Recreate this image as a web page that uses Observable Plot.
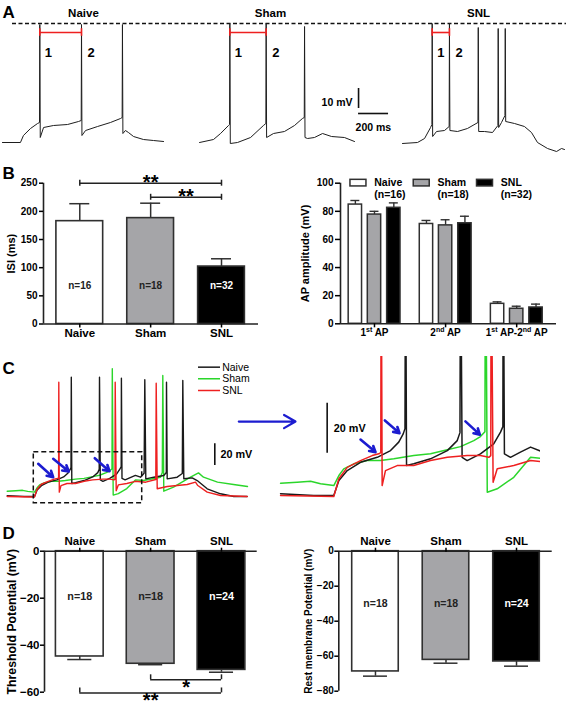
<!DOCTYPE html>
<html><head><meta charset="utf-8">
<script src="https://cdn.jsdelivr.net/npm/d3@7"></script>
<script src="https://cdn.jsdelivr.net/npm/@observablehq/plot@0.6"></script>
<style>
html,body{margin:0;padding:0;background:#fff;}
#fig{position:relative;width:567px;height:705px;overflow:hidden;background:#fff;}
#fig svg{position:absolute;overflow:visible;background:transparent;}
</style></head><body><div id="fig"></div>
<script>
// ---------------- DATA ----------------
const groups = ["Naive", "Sham", "SNL"];
const groupFills = ["#ffffff", "#a5a5a8", "#000000"];
const traceColors = ["#1a1a1a", "#2bd62b", "#ee2020"];

// Panel A: example recordings [time (ms), membrane potential (mV)]
const traceANaive = [[13,-59.5],[133,-59.5],[153,-56],[200,-52.5],[247,-50],[260,-49.5],[262,-0.5],[265,-57],[287,-52],[353,-51],[447,-50.5],[520,-49],[538,-48.5],[540,-0.5],[543,-56],[567,-53.5],[647,-51.5],[733,-49.5],[800,-47.5],[811,-47],[813,-0.5],[816,-55],[833,-53.5],[853,-54.5],[887,-56.5],[953,-58],[1020,-58.5],[1087,-59]];
const traceASham = [[1327,-59.5],[1420,-58],[1467,-55],[1520,-51],[1527,-50.5],[1529,0],[1532,-60],[1580,-59.5],[1667,-57],[1753,-51],[1769,-50],[1771,0],[1774,-57],[1820,-55],[1893,-54],[1960,-51],[2013,-47.5],[2025,-47],[2027,-1.5],[2030,-57],[2047,-57.5],[2093,-57],[2147,-55],[2207,-56.5],[2293,-57],[2360,-59]];
const traceASNL = [[2680,-60],[2780,-59.5],[2827,-57.5],[2867,-52],[2876,-50.5],[2878,0],[2881,-56.5],[2907,-54],[2960,-53.5],[2991,-51.5],[2993,0],[2996,-53.5],[3047,-54],[3113,-52.5],[3183,-49.5],[3185,-2],[3188,-54],[3227,-54],[3280,-54.5],[3316,-51],[3318,-2.5],[3321,-52],[3340,-49.5],[3363,-46],[3365,-2.5],[3368,-49],[3427,-50],[3493,-51.5],[3540,-54.5],[3580,-59.5],[3647,-62.5],[3707,-64],[3740,-62.5],[3760,-63]];
const isiSpike1 = [262, 1529, 2878];
const isiSpike2 = [540, 1771, 2993];
const scaleBarAmV = 10;
const scaleBarAms = 200;

// Panel B
const isiMean = [182.6, 188, 102];
const isiSem = [31, 26.5, 13.8];
const isiN = [16, 18, 32];
const isiTicks = [0, 50, 100, 150, 200, 250];
const isiSigPairs = [[0, 2], [1, 2]];
const isiSigLabels = ["**", "**"];

const ampCategories = ["1st AP", "2nd AP", "1st AP-2nd AP"];
const ampNaive = [84.8, 71, 14.2];
const ampSham = [77.7, 70, 10.7];
const ampSNL = [82.5, 71.5, 11.6];
const ampSemNaive = [2.9, 2.5, 1.4];
const ampSemSham = [2.3, 4, 1.8];
const ampSemSNL = [3.5, 5, 2.4];
const ampN = [16, 18, 32];
const ampTicks = [0, 20, 40, 60, 80, 100];

// Panel C: traces [time (ms), membrane potential (mV)]
const cTraceNaive = [[67,-61.3],[237,-62],[340,-62],[366,-56],[409,-52],[477,-48.7],[563,-46.7],[631,-44],[673,-40.6],[696,-37.3],[705,-35.2],[708,48],[713,-50],[750,-49.3],[836,-47.3],[922,-44],[973,-40],[987,-36.8],[990,48],[998,-46.7],[1024,-48],[1092,-45.3],[1160,-41.3],[1195,-36.6],[1207,-34.4],[1209,47],[1215,-45.3],[1246,-46.7],[1297,-44.6],[1349,-42.6],[1400,-44.2],[1436,-40.5],[1443,45.6],[1453,-45.7],[1533,-44.2],[1633,-42.6],[1658,-39.9],[1660,43.3],[1667,-45.7],[1767,-44.2],[1818,-40.8],[1823,44.9],[1833,-45.7],[1917,-44.8],[1967,-47.3],[2067,-54.9],[2200,-59.5],[2333,-62],[2467,-62]];
const cTraceSham = [[67,-57.1],[152,-56.7],[221,-56.3],[272,-57.3],[340,-58],[366,-54],[391,-51.3],[443,-49.3],[511,-48],[579,-48],[648,-47.3],[750,-46],[836,-45.3],[922,-43.7],[990,-42.4],[1058,-40],[1092,-38.4],[1115,-36.4],[1118,55.7],[1127,-60.7],[1178,-59.3],[1263,-54.7],[1349,-46.7],[1430,-47.3],[1600,-44.2],[1618,-39.9],[1623,49.5],[1633,-57.1],[1730,-53.4],[1900,-44.2],[1980,-40.2],[2030,-44.2],[2170,-48.8],[2330,-50.9],[2470,-52.8]];
const cTraceSNL = [[67,-62],[340,-62.4],[366,-55.3],[409,-50.7],[477,-48],[537,-46],[571,-45.3],[581,-44.8],[583,43.3],[588,-58],[605,-52],[665,-50],[750,-50],[836,-48],[922,-46.7],[1024,-46],[1092,-46],[1135,-46.7],[1145,-46],[1147,43.3],[1157,-56.7],[1178,-51.3],[1263,-50],[1349,-48],[1453,-48.8],[1553,-46.3],[1557,42.4],[1567,-54.9],[1667,-52.8],[1867,-50.9],[1950,-48.8],[1973,-51.9],[2067,-58],[2200,-61.1],[2467,-62]];
const scaleBarCmV = 20;

// Panel D
const thrMean = [-44.8, -47.9, -50.5];
const thrSem = [1.3, 0.4, 1.0];
const thrN = [18, 18, 24];
const thrTicks = [0, -20, -40, -60];
const thrSigPairs = [[1, 2], [0, 2]];
const thrSigLabels = ["*", "**"];
const rmpMean = [-68.7, -62.1, -63];
const rmpSem = [2.7, 1.9, 2.7];
const rmpN = [18, 18, 24];
const rmpTicks = [0, -20, -40, -60, -80];

// ---------------- LAYOUT (positions / styles) ----------------
const FONT = "'Liberation Sans', Arial, sans-serif";
const INK = "#222";
const RED = "#ee2020";
const BLUE = "#1c1cd0";
const fig = document.getElementById("fig");

function place(svg, left, top, fontSize) {
  Object.assign(svg.style, {left: left + "px", top: top + "px", fontFamily: FONT, fontWeight: "bold",
    fontSize: fontSize + "px", overflow: "visible", background: "transparent", maxWidth: "none"});
  fig.appendChild(svg);
  return svg;
}

function supify(svg) {
  const NS = "http://www.w3.org/2000/svg";
  svg.querySelectorAll("text").forEach(t => {
    const s = t.textContent;
    if (!/\d(st|nd) /.test(s)) return;
    const parts = s.split(/(st|nd)(?= )/);
    while (t.firstChild) t.removeChild(t.firstChild);
    let raised = false;
    parts.forEach((p, k) => {
      const sp = document.createElementNS(NS, "tspan");
      sp.textContent = p;
      if (k % 2 === 1) { sp.setAttribute("dy", "-4"); sp.setAttribute("font-size", "7"); raised = true; }
      else if (raised) { sp.setAttribute("dy", "4"); raised = false; }
      t.appendChild(sp);
    });
  });
}

// ---------------- PANEL A ----------------
{
  const isiRows = groups.map((g, i) => ({g, t1: isiSpike1[i], t2: isiSpike2[i]}));
  const titleX = [553, 1800, 3187];
  const sbT = 2387, sbV = -42.5, sbH = -45;
  const svg = Plot.plot({
    width: 567, height: 150, margin: 0,
    x: {domain: [0, 3780], axis: null},
    y: {domain: [-63.5, 11.5], axis: null},
    marks: [
      Plot.ruleY([0], {x1: 80, x2: 3773, stroke: "#111", strokeWidth: 1.5, strokeDasharray: "4,2.5"}),
      ...[traceANaive, traceASham, traceASNL].map(tr =>
        Plot.line(tr, {x: d => d[0], y: d => d[1], stroke: "#1e1e1e", strokeWidth: 1})),
      Plot.ruleY(isiRows, {x1: "t1", x2: "t2", y: -4.5, stroke: RED, strokeWidth: 1.6}),
      Plot.ruleX(isiRows, {x: "t1", y1: -2.6, y2: -6.4, stroke: RED, strokeWidth: 1.6}),
      Plot.ruleX(isiRows, {x: "t2", y1: -2.6, y2: -6.4, stroke: RED, strokeWidth: 1.6}),
      Plot.text(isiRows, {x: "t1", y: -16.5, text: () => "1", dx: 5, textAnchor: "start", lineAnchor: "bottom", fontSize: 13, fontWeight: "bold"}),
      Plot.text(isiRows, {x: "t2", y: -16.5, text: () => "2", dx: 6, textAnchor: "start", lineAnchor: "bottom", fontSize: 13, fontWeight: "bold"}),
      Plot.text(groups, {x: (d, i) => titleX[i], y: 3.5, text: d => d, lineAnchor: "bottom", fontSize: 11.5, fontWeight: "bold"}),
      Plot.ruleX([sbT], {y1: sbV, y2: sbV + scaleBarAmV, stroke: "#111", strokeWidth: 1.6}),
      Plot.ruleY([sbH], {x1: sbT, x2: sbT + scaleBarAms, stroke: "#111", strokeWidth: 1.6}),
      Plot.text([`${scaleBarAmV} mV`], {x: sbT - 40, y: -41, text: d => d, textAnchor: "end", lineAnchor: "bottom", fontSize: 10.5, fontWeight: "bold"}),
      Plot.text([`${scaleBarAms} ms`], {x: sbT - 20, y: -53.5, text: d => d, textAnchor: "start", lineAnchor: "bottom", fontSize: 10.5, fontWeight: "bold"}),
      Plot.text(["A"], {frameAnchor: "top-left", text: d => d, dx: 2, dy: 17, textAnchor: "start", lineAnchor: "bottom", fontSize: 17, fontWeight: "bold"})
    ]
  });
  place(svg, 0, 0, 10);
}

// ---------------- generic bar panel ----------------
function barPanel(o) {
  const rows = groups.map((g, i) => ({g, i, v: o.means[i], e: o.sems[i], n: o.ns[i]}));
  const yMid = (o.yDom[0] + o.yDom[1]) / 2;
  const marks = [
    Plot.ruleX(rows, {x: "i", y1: "v", y2: d => d.v + o.errDir * d.e, stroke: "#303030", strokeWidth: 1.5}),
    Plot.ruleY(rows, {y: d => d.v + o.errDir * d.e, x1: d => d.i - o.capHalf, x2: d => d.i + o.capHalf, stroke: "#303030", strokeWidth: 1.5}),
    Plot.rect(rows, {x1: d => d.i - o.halfW, x2: d => d.i + o.halfW, y1: 0, y2: "v", fill: d => groupFills[d.i], stroke: "#303030", strokeWidth: 1.6}),
    Plot.ruleX([o.xDom[0]], {stroke: INK, strokeWidth: 1.6}),
    Plot.ruleY([0], {stroke: INK, strokeWidth: 1.6}),
    Plot.axisY(o.ticks, {tickSize: 4, tickPadding: o.tickPadding, fontSize: o.tickFont, strokeWidth: 1.5, label: null}),
    Plot.axisX([0, 1, 2], {anchor: o.catAnchor, tickFormat: i => groups[i], tickSize: 4, tickPadding: o.catPadding, fontSize: o.catFont, strokeWidth: 1.5, label: null}),
    Plot.text(rows, {x: "i", y: o.nY, text: d => "n=" + d.n, fill: d => d.i === 2 ? "#ffffff" : INK, fontSize: o.nFont, fontWeight: "bold"}),
    Plot.text([o.title], {x: o.xDom[0], y: yMid, text: d => d, rotate: -90, textAnchor: "middle", dx: o.titleDx, fontSize: o.titleFont, fontWeight: "bold"})
  ];
  if (o.sigPairs) {
    const sig = o.sigPairs.map((p, k) => ({a: p[0], b: p[1], lab: o.sigLabels[k], lev: o.sigLevels[k]}));
    marks.push(
      Plot.ruleY(sig, {y: "lev", x1: "a", x2: "b", stroke: INK, strokeWidth: 1.5}),
      Plot.ruleX(sig, {x: "a", y1: d => d.lev + o.sigTick[0], y2: d => d.lev + o.sigTick[1], stroke: INK, strokeWidth: 1.5}),
      Plot.ruleX(sig, {x: "b", y1: d => d.lev + o.sigTick[0], y2: d => d.lev + o.sigTick[1], stroke: INK, strokeWidth: 1.5}),
      Plot.text(sig, {x: d => (d.a + d.b) / 2, y: "lev", text: "lab", dy: o.sigDy, lineAnchor: "bottom", fontSize: 20, fontWeight: "bold"})
    );
  }
  if (o.letter) {
    marks.push(Plot.text([o.letter], {frameAnchor: "top-left", text: d => d, dx: o.letterDx, dy: o.letterDy, textAnchor: "start", lineAnchor: "bottom", fontSize: 17, fontWeight: "bold"}));
  }
  const svg = Plot.plot({
    width: o.width, height: o.height,
    marginLeft: o.mL, marginRight: o.mR, marginTop: o.mT, marginBottom: o.mB,
    x: {domain: o.xDom}, y: {domain: o.yDom}, color: {type: "identity"},
    marks
  });
  return place(svg, o.left, o.top, o.tickFont);
}

// ---------------- PANEL B (left) ----------------
barPanel({left: 0, top: 160, width: 262, height: 190, mL: 43, mR: 4, mT: 22.7, mB: 26.5,
  xDom: [-0.512, 2.522], yDom: [0, 250], means: isiMean, sems: isiSem, ns: isiN, ticks: isiTicks,
  tickFont: 10, tickPadding: 2, catFont: 11.5, catAnchor: "bottom", catPadding: 1,
  title: "ISI (ms)", titleFont: 11, titleDx: -32, nY: 67, nFont: 10, halfW: 0.33, capHalf: 0.141, errDir: 1,
  sigPairs: isiSigPairs, sigLabels: isiSigLabels, sigLevels: [250, 225], sigTick: [-5.3, 5.3], sigDy: 6,
  letter: "B", letterDx: -41, letterDy: -4.4});

// ---------------- PANEL B (right) ----------------
{
  const series = [ampNaive, ampSham, ampSNL];
  const sems = [ampSemNaive, ampSemSham, ampSemSNL];
  const offs = [-0.269, 0, 0.272];
  const rows = [];
  series.forEach((s, g) => s.forEach((v, c) => rows.push({g, c, x: c + offs[g], v, e: sems[g][c]})));
  const leg = groups.map((name, g) => {
    const x1 = -0.338 + 0.89 * g;
    return {name, g, x1, x2: x1 + 0.225, tx: x1 + 0.335, n: ampN[g]};
  });
  const svg = Plot.plot({
    width: 287, height: 190, marginLeft: 60, marginRight: 11, marginTop: 22.7, marginBottom: 26.7,
    x: {domain: [-0.478, 2.56]}, y: {domain: [0, 100]}, color: {type: "identity"},
    marks: [
      Plot.ruleX(rows, {x: "x", y1: "v", y2: d => d.v + d.e, stroke: "#303030", strokeWidth: 1.4}),
      Plot.ruleY(rows, {y: d => d.v + d.e, x1: d => d.x - 0.063, x2: d => d.x + 0.063, stroke: "#303030", strokeWidth: 1.4}),
      Plot.rect(rows, {x1: d => d.x - 0.094, x2: d => d.x + 0.094, y1: 0, y2: "v", fill: d => groupFills[d.g], stroke: "#303030", strokeWidth: 1.5}),
      Plot.ruleX([-0.478], {stroke: INK, strokeWidth: 1.6}),
      Plot.ruleY([0], {stroke: INK, strokeWidth: 1.6}),
      Plot.axisY(ampTicks, {tickSize: 5, tickPadding: 2, fontSize: 10, strokeWidth: 1.5, label: null}),
      Plot.axisX([0, 1, 2], {tickFormat: i => ampCategories[i], tickSize: 4, tickPadding: 1, fontSize: 10, strokeWidth: 1.5, label: null}),
      Plot.rect(leg, {x1: "x1", x2: "x2", y1: 97.7, y2: 102.4, fill: d => groupFills[d.g], stroke: "#303030", strokeWidth: 1.5}),
      Plot.text(leg, {x: "tx", y: 97.7, text: "name", textAnchor: "start", lineAnchor: "bottom", fontSize: 10.5, fontWeight: "bold"}),
      Plot.text(leg, {x: "tx", y: 89.8, text: d => `(n=${d.n})`, textAnchor: "start", lineAnchor: "bottom", fontSize: 10.5, fontWeight: "bold"}),
      Plot.text(["AP amplitude (mV)"], {x: -0.478, y: 50, text: d => d, rotate: -90, textAnchor: "middle", dx: -35, fontSize: 11, fontWeight: "bold"})
    ]
  });
  place(svg, 280, 160, 10);
  supify(svg);
}

// ---------------- PANEL C ----------------
const cTraces = [cTraceSham, cTraceNaive, cTraceSNL];
const cColors = [traceColors[1], traceColors[0], traceColors[2]];
{
  const legendV = [57.2, 46.5, 35.7];
  const arrows = [[377,-31.9,527,-44.2],[527,-27.3,683,-39],[943,-26.7,1090,-38.7]];
  const svg = Plot.plot({
    width: 300, height: 155, margin: 0,
    x: {domain: [0, 3000], axis: null}, y: {domain: [-74.9, 67.95], axis: null}, color: {type: "identity"},
    marks: [
      ...cTraces.map((tr, k) => Plot.line(tr, {x: d => d[0], y: d => d[1], stroke: cColors[k], strokeWidth: 1.4})),
      Plot.rect([0], {x1: 333, x2: 1417, y1: -68.2, y2: -21.2, fill: "none", stroke: "#111", strokeWidth: 1.5, strokeDasharray: "5,3"}),
      Plot.arrow(arrows, {x1: d => d[0], y1: d => d[1], x2: d => d[2], y2: d => d[3], stroke: BLUE, strokeWidth: 2.6, headLength: 7}),
      Plot.arrow([[2383, 7.1, 2950, 7.1]], {x1: d => d[0], y1: d => d[1], x2: d => d[2], y2: d => d[3], stroke: BLUE, strokeWidth: 2.2, headLength: 9}),
      Plot.ruleY(groups, {y: (d, i) => legendV[i], x1: 1980, x2: 2200, stroke: (d, i) => traceColors[i], strokeWidth: 1.5}),
      Plot.text(groups, {x: 2217, y: (d, i) => legendV[i], text: d => d, textAnchor: "start", fontSize: 10.5, fontWeight: "normal"}),
      Plot.ruleX([2143], {y1: -33.4, y2: -33.4 + scaleBarCmV, stroke: "#111", strokeWidth: 1.6}),
      Plot.text([`${scaleBarCmV} mV`], {x: 2200, y: -23.5, text: d => d, textAnchor: "start", fontSize: 10.8, fontWeight: "bold"}),
      Plot.text(["C"], {frameAnchor: "top-left", text: d => d, dx: 2, dy: 18.5, textAnchor: "start", lineAnchor: "bottom", fontSize: 17, fontWeight: "bold"})
    ]
  });
  place(svg, 0, 355, 10);
}
{
  const arrows = [[477,-39.6,554,-44.6],[602,-31.9,677,-37],[1015,-32.3,1089,-37.6]];
  const svg = Plot.plot({
    width: 270, height: 154, margin: 0,
    x: {domain: [15.4, 1400], axis: null}, y: {domain: [-68.0, -6.3], axis: null}, color: {type: "identity"},
    marks: [
      ...cTraces.map((tr, k) => Plot.line(tr, {x: d => d[0], y: d => d[1], stroke: cColors[k], strokeWidth: 1.5, clip: true})),
      Plot.arrow(arrows, {x1: d => d[0], y1: d => d[1], x2: d => d[2], y2: d => d[3], stroke: BLUE, strokeWidth: 2.6, headLength: 7}),
      Plot.ruleX([306], {y1: -45.05, y2: -45.05 + scaleBarCmV, stroke: "#111", strokeWidth: 1.6}),
      Plot.text([`${scaleBarCmV} mV`], {x: 340, y: -35, text: d => d, textAnchor: "start", fontSize: 10.8, fontWeight: "bold"})
    ]
  });
  place(svg, 270, 356, 10);
}

// ---------------- PANEL D ----------------
barPanel({left: 0, top: 515, width: 262, height: 190, mL: 44, mR: 5.3, mT: 35.7, mB: 13.3,
  xDom: [-0.498, 2.504], yDom: [-60, 0], means: thrMean, sems: thrSem, ns: thrN, ticks: thrTicks,
  tickFont: 11.5, tickPadding: 1, catFont: 11.5, catAnchor: "top", catPadding: 2,
  title: "Threshold Potential (mV)", titleFont: 12.3, titleDx: -32.3, nY: -19.3, nFont: 10.8, halfW: 0.337, capHalf: 0.17, errDir: -1,
  sigPairs: thrSigPairs, sigLabels: thrSigLabels, sigLevels: [-54.7, -60.3], sigTick: [0, 2.1], sigDy: 14.5,
  letter: "D", letterDx: -42, letterDy: -12.4});

barPanel({left: 280, top: 515, width: 287, height: 190, mL: 58.3, mR: 15.3, mT: 35.7, mB: 14.3,
  xDom: [-0.52, 2.506], yDom: [-80, 0], means: rmpMean, sems: rmpSem, ns: rmpN, ticks: rmpTicks,
  tickFont: 10, tickPadding: 1, catFont: 11.5, catAnchor: "top", catPadding: 2,
  title: "Rest membrane Potential (mV)", titleFont: 10, titleDx: -30.3, nY: -29.7, nFont: 10.5, halfW: 0.33, capHalf: 0.17, errDir: -1});
</script></body></html>
